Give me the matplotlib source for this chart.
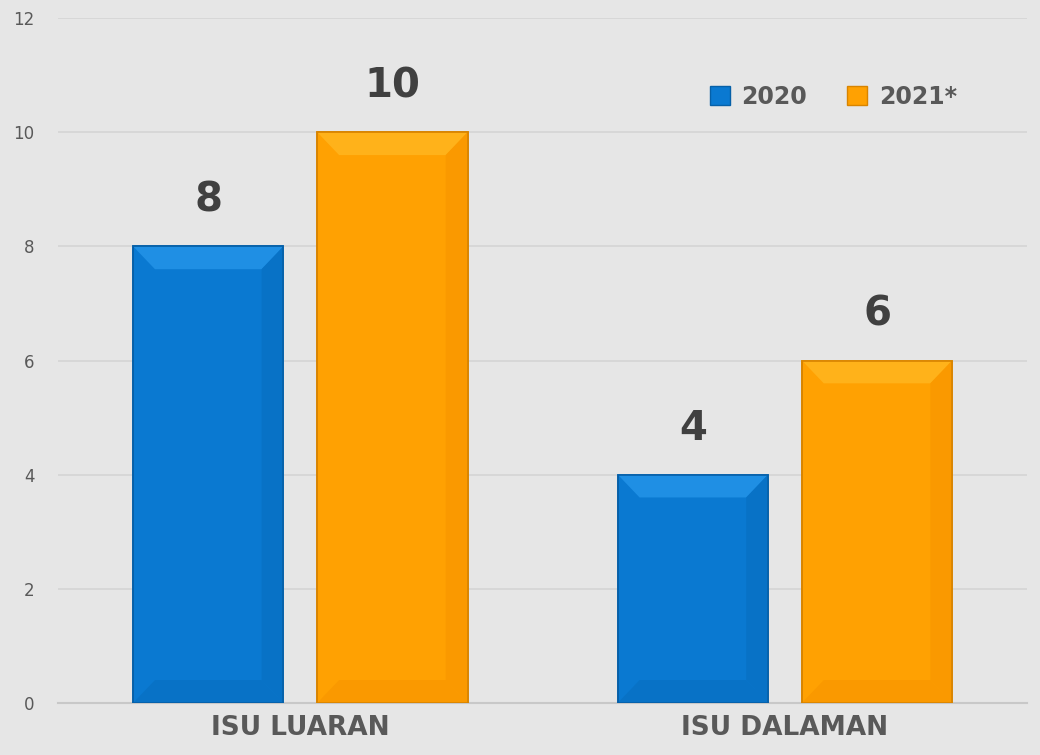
import numpy as np
import matplotlib.pyplot as plt
from matplotlib.patches import Polygon, Patch

categories = ['ISU LUARAN', 'ISU DALAMAN']
series = ['2020', '2021*']
values_2020 = [8, 4]
values_2021 = [10, 6]

colors = {'2020': '#0a79d1', '2021*': '#ffa102'}
dark = {'2020': '#0660a8', '2021*': '#d88400'}
light = {'2020': '#1f8fe4', '2021*': '#ffb21a'}
shade = {'2020': '#0872c6', '2021*': '#fa9900'}

bg = '#e6e6e6'
fig = plt.figure(figsize=(10.4, 7.55), dpi=100, facecolor=bg)
ax = fig.add_axes([0.0558, 0.069, 0.932, 0.907])
ax.set_facecolor(bg)

x = np.arange(len(categories))
w = 0.31
off = 0.19


def bevel_bar(ax, xc, h, name):
    x0, x1 = xc - w / 2, xc + w / 2
    bx, by = 0.045, 0.4
    ax.bar(xc, h, width=w, color=colors[name], edgecolor=dark[name], linewidth=1.2, zorder=3)
    top = [(x0, h), (x1, h), (x1 - bx, h - by), (x0 + bx, h - by)]
    right = [(x1, h), (x1, 0), (x1 - bx, by), (x1 - bx, h - by)]
    bottom = [(x0, 0), (x1, 0), (x1 - bx, by), (x0 + bx, by)]
    ax.add_patch(Polygon(top, closed=True, facecolor=light[name], edgecolor='none', zorder=4))
    ax.add_patch(Polygon(right, closed=True, facecolor=shade[name], edgecolor='none', zorder=4))
    ax.add_patch(Polygon(bottom, closed=True, facecolor=shade[name], edgecolor='none', zorder=4))
    ax.bar(xc, h, width=w, color='none', edgecolor=dark[name], linewidth=1.2, zorder=5)
    ax.text(xc, h + 0.8, str(h), ha='center', va='center', fontsize=29,
            fontweight='heavy', color='#404040', family='DejaVu Sans', zorder=6)


for i in range(len(categories)):
    bevel_bar(ax, x[i] - off, values_2020[i], '2020')
    bevel_bar(ax, x[i] + off, values_2021[i], '2021*')

ax.set_xlim(-0.5, 1.5)
ax.set_ylim(0, 12)
ax.set_yticks(range(0, 13, 2))
ax.yaxis.grid(True, color='#d5d5d5', linewidth=1.2, zorder=0)
ax.set_axisbelow(True)
for s in ['top', 'right', 'left']:
    ax.spines[s].set_visible(False)
ax.spines['bottom'].set_color('#c8c8c8')
ax.spines['bottom'].set_linewidth(1.5)
ax.tick_params(axis='y', length=0, pad=17, labelsize=12, labelcolor='#595959')
ax.tick_params(axis='x', length=0, pad=9)
ax.set_xticks(x)
ax.set_xticklabels(categories, fontsize=19, fontweight='bold', color='#595959', family='DejaVu Sans')

handles = [Patch(facecolor=colors[s], edgecolor=dark[s]) for s in series]
leg = ax.legend(handles, series, loc='center', bbox_to_anchor=(0.8, 0.885), ncol=2,
                frameon=False, handlelength=0.85, handleheight=0.85, handletextpad=0.5,
                columnspacing=1.7, prop={'family': 'DejaVu Sans', 'weight': 'bold', 'size': 17})
for t in leg.get_texts():
    t.set_color('#595959')

fig.savefig('out.png', dpi=100, facecolor=bg)
